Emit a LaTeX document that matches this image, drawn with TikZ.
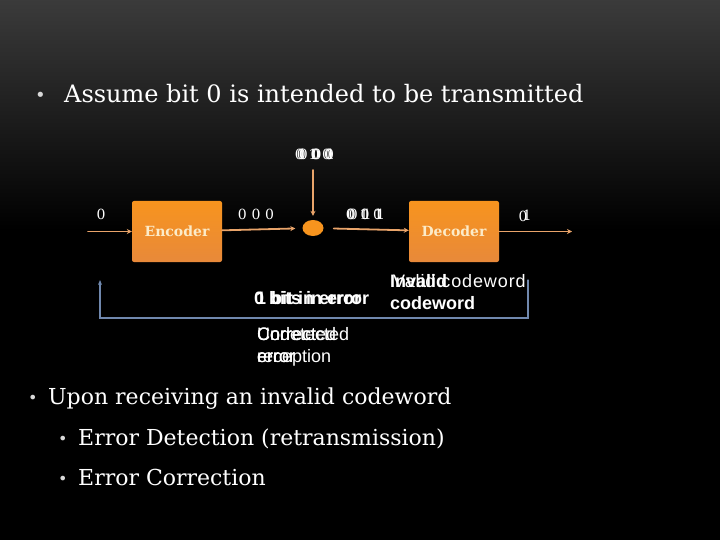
\documentclass[tikz,border=0pt]{standalone}
\usepackage{fontspec}
\newfontfamily\arialfont{Liberation Sans}
\newfontfamily\arialwide[LetterSpace=5]{Liberation Sans}
\newfontfamily\slidefont{DejaVu Serif}
\usetikzlibrary{arrows.meta,calc,shapes.geometric}
\definecolor{boxorange}{HTML}{F7941E}
\definecolor{boxdark}{HTML}{E8893A}
\definecolor{boxtext}{HTML}{FCEBC8}
\definecolor{wireorange}{HTML}{E9A46A}
\definecolor{loopblue}{HTML}{7088AE}
\definecolor{dotgray}{HTML}{D8D8D8}

\begin{document}
\begin{tikzpicture}[x=1pt, y=-1pt, line cap=round,
  every node/.style={inner sep=0pt, text=white},
  blockbox/.style={top color=boxorange, bottom color=boxdark, rounded corners=2pt,
    minimum width=90pt, minimum height=61pt, text=boxtext,
    font=\slidefont\fontsize{14}{18}\selectfont\bfseries},
  bitlab/.style={font=\slidefont\fontsize{14}{18}\selectfont, anchor=base},
  wire/.style={draw=wireorange, line width=1.8pt, -{Stealth[length=5pt,width=5pt]}},
  loopwire/.style={draw=loopblue, line width=1.3pt},
  note/.style={font=\arialfont\fontsize{18}{22}\selectfont, anchor=base west, align=left},
  boldnote/.style={note, font=\arialfont\fontsize{18}{22}\selectfont\bfseries},
  bullettext/.style={font=\slidefont\fontsize{22}{26}\selectfont, anchor=base west}]
  % slide background
  \useasboundingbox (0,0) rectangle (720,540);
  \fill[black] (0,0) rectangle (720,540);
  \shade[top color=black!77, bottom color=black] (0,0) rectangle (720,230);

  % heading
  \node[bullettext, text=dotgray, font=\slidefont\fontsize{18}{24}\selectfont] (hb) at (35,102) {\textbullet};
  \node[bullettext, font=\slidefont\fontsize{24}{28}\selectfont] (head) at (64,103) {Assume bit 0 is intended to be transmitted};

  % channel blocks
  \node[blockbox] (enc) at (177,231.5) {Encoder};
  \node[blockbox] (dec) at (454,231.5) {Decoder};
  \node[ellipse, fill=boxorange, minimum width=21pt, minimum height=16pt] (noise) at (313,228) {};
  \coordinate (in) at (88,231.5);
  \coordinate (out) at (572,231.5);
  \coordinate (src) at (313,170);

  \draw[wire] (in) -- (enc);
  \draw[wire, shorten >=7pt] (enc) -- (noise);
  \draw[wire, shorten >=4pt] (src) -- (noise);
  \draw[wire, shorten <=10pt] (noise) -- (dec);
  \draw[wire] (dec) -- (out);

  % retransmission loop
  \coordinate (fbA) at (528,280);
  \coordinate (fbC) at (100,318);
  \coordinate (fbB) at (100,280);
  \draw[loopwire, -{Stealth[length=5pt,width=4pt]}] (fbA) |- (fbC) -- (fbB);

  % bit labels (animation frames drawn on top of each other)
  \node[bitlab] (x0) at (101,220) {0};
  \node[bitlab] (c0) at (256,220) {0\,\,0\,\,0};
  \foreach \t/\dx in {{0\,\,0\,\,0}/0,{0\,\,0\,\,1}/2,{0\,\,1\,\,0}/-2,{1\,\,0\,\,0}/1}
    \node[bitlab] (e\dx) at (315+\dx,160) {\t};
  \foreach \t/\dx in {{0\,\,0\,\,1}/0,{0\,\,1\,\,1}/2,{0\,\,1\,\,0}/-1}
    \node[bitlab] (r\dx) at (365+\dx,219) {\t};
  \node[bitlab] (y0) at (523,222) {0};
  \node[bitlab] (y1) at (527,221) {1};

  % outcome notes
  \node[boldnote] (err0) at (254,304) {0 bits in error};
  \node[boldnote] (err1) at (256,304) {1 bit in error};
  \node[note, font=\arialwide\fontsize{18}{22}\selectfont] (val) at (393,287) {Valid codeword};
  \node[boldnote] (inv) at (390,309) {Invalid\\codeword};
  \node[note] (cor) at (257,362) {Corrected\\error};
  \node[note] (rec) at (257,362) {Correct\\reception};
  \node[note] (und) at (257,362) {Undetected\\error};

  % bottom bullets
  \node[bullettext, text=dotgray, font=\slidefont\fontsize{16}{24}\selectfont] (b1) at (28,403) {\textbullet};
  \node[bullettext] (t1) at (48,404) {Upon receiving an invalid codeword};
  \node[bullettext, text=dotgray, font=\slidefont\fontsize{16}{24}\selectfont] (b2) at (58,444) {\textbullet};
  \node[bullettext] (t2) at (78,445) {Error Detection (retransmission)};
  \node[bullettext, text=dotgray, font=\slidefont\fontsize{16}{24}\selectfont] (b3) at (58,484) {\textbullet};
  \node[bullettext] (t3) at (78,485) {Error Correction};
\end{tikzpicture}
\end{document}
